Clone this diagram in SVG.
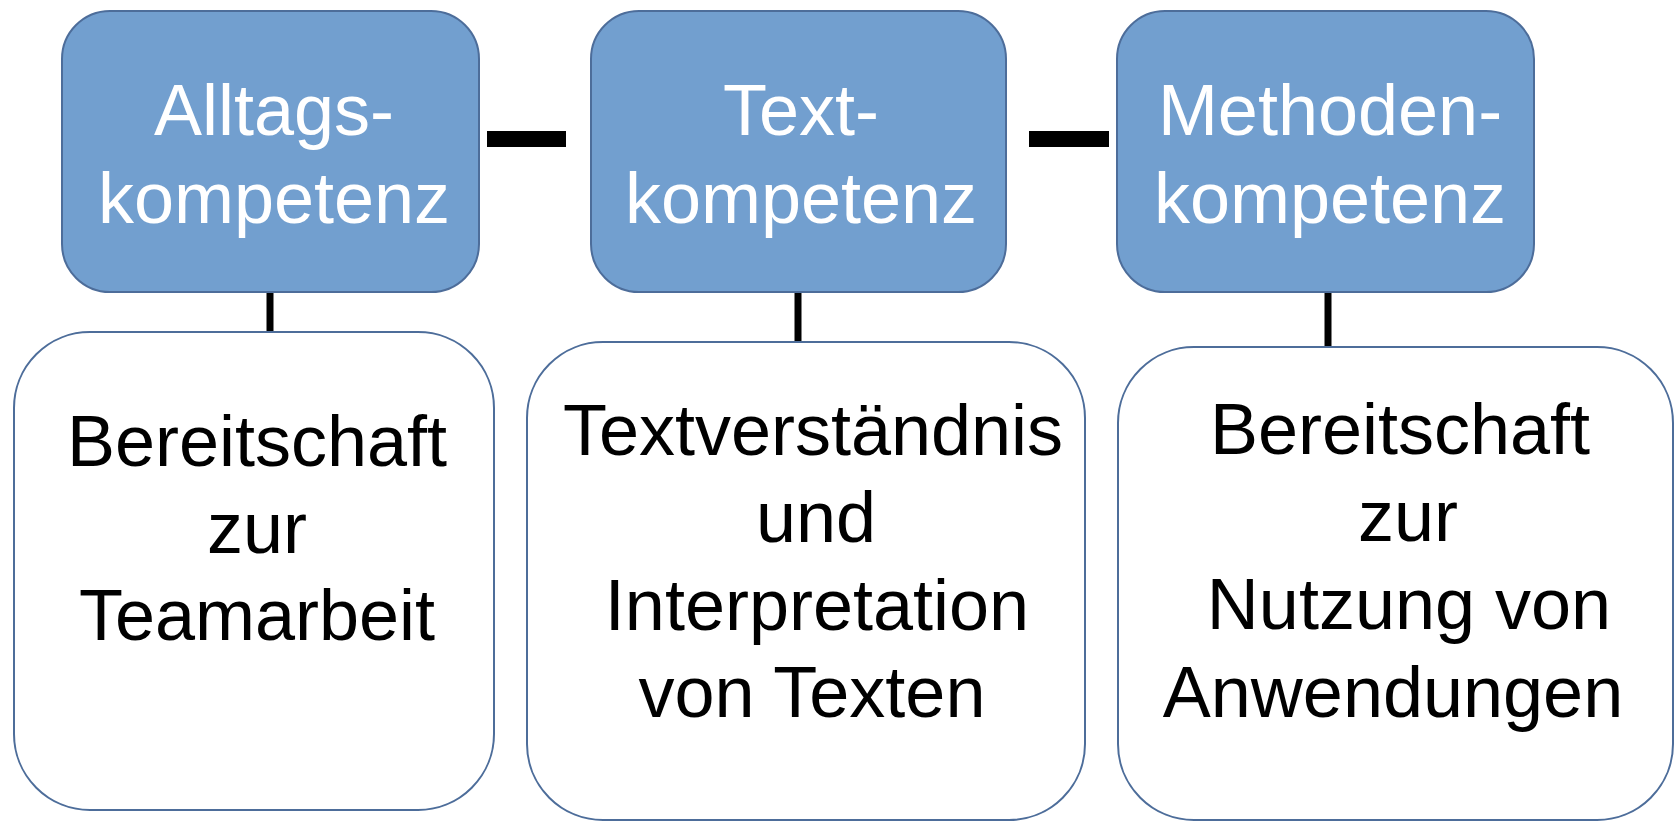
<svg xmlns="http://www.w3.org/2000/svg" width="1675" height="823" viewBox="0 0 1675 823">
<style>
.top{fill:#729fcf;stroke:#4d6d9a;stroke-width:2}
.sub{fill:#ffffff;stroke:#4d6d9a;stroke-width:2}
.tw{font-family:"Liberation Sans",Arial,sans-serif;font-size:72px;fill:#ffffff;text-anchor:middle}
.tb{font-family:"Liberation Sans",Arial,sans-serif;font-size:72px;fill:#000000;text-anchor:middle}
.hc{stroke:#000;stroke-width:16;fill:none}
.vc{stroke:#000;stroke-width:7;fill:none}
</style>
<rect width="1675" height="823" fill="#ffffff"/>
<g id="connectors">
<line class="hc" x1="487" y1="139" x2="566" y2="139"/>
<line class="hc" x1="1029" y1="139" x2="1109" y2="139"/>
<line class="vc" x1="270" y1="289" x2="270" y2="333"/>
<line class="vc" x1="798" y1="289" x2="798" y2="346"/>
<line class="vc" x1="1328" y1="289" x2="1328" y2="349"/>
</g>
<g id="node-alltags">
<rect class="top" x="62" y="11" width="417" height="281" rx="48" ry="48"/>
<text class="tw" x="274" y="135">Alltags-</text>
<text class="tw" x="274" y="223">kompetenz</text>
</g>
<g id="node-text">
<rect class="top" x="591" y="11" width="415" height="281" rx="48" ry="48"/>
<text class="tw" x="801" y="135">Text-</text>
<text class="tw" x="801" y="223">kompetenz</text>
</g>
<g id="node-methoden">
<rect class="top" x="1117" y="11" width="417" height="281" rx="48" ry="48"/>
<text class="tw" x="1330" y="135">Methoden-</text>
<text class="tw" x="1330" y="223">kompetenz</text>
</g>
<g id="node-teamarbeit">
<rect class="sub" x="14" y="332" width="480" height="478" rx="76" ry="76"/>
<text class="tb" x="257" y="466">Bereitschaft</text>
<text class="tb" x="257" y="553">zur</text>
<text class="tb" x="257" y="640">Teamarbeit</text>
</g>
<g id="node-textverstaendnis">
<rect class="sub" x="527" y="342" width="558" height="478" rx="76" ry="76"/>
<text class="tb" x="813" y="455">Textverständnis</text>
<text class="tb" x="816" y="542">und</text>
<text class="tb" x="817" y="630">Interpretation</text>
<text class="tb" x="812" y="717">von Texten</text>
</g>
<g id="node-anwendungen">
<rect class="sub" x="1118" y="347" width="555" height="473" rx="76" ry="76"/>
<text class="tb" x="1400" y="454">Bereitschaft</text>
<text class="tb" x="1408" y="541">zur</text>
<text class="tb" x="1409" y="629">Nutzung von</text>
<text class="tb" x="1393" y="717">Anwendungen</text>
</g>
</svg>
